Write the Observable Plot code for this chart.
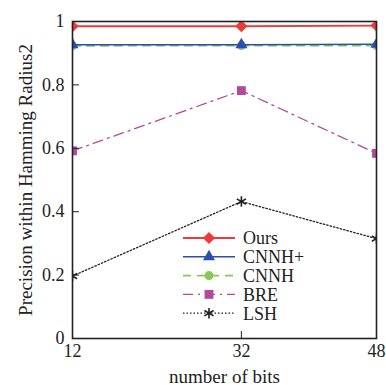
<!DOCTYPE html>
<html><head><meta charset="utf-8">
<script src="https://cdn.jsdelivr.net/npm/d3@7"></script>
<script src="https://cdn.jsdelivr.net/npm/@observablehq/plot@0.6"></script>
<style>
body{margin:0;background:#fff}
#chart svg, #chart svg text{font-family:"Liberation Serif","Times New Roman",serif !important}
</style></head>
<body><div id="chart"></div>
<script>
const bits = [12, 32, 48];
const seriesNames = ["Ours", "CNNH+", "CNNH", "BRE", "LSH"];
const ours = [0.985, 0.985, 0.987];
const cnnhPlus = [0.927, 0.927, 0.928];
const cnnh = [0.923, 0.924, 0.924];
const bre = [0.592, 0.782, 0.584];
const lsh = [0.197, 0.432, 0.315];
const yTicks = [0, 0.2, 0.4, 0.6, 0.8, 1];
const xTicks = [12, 32, 48];

const values = [ours, cnnhPlus, cnnh, bre, lsh];
const styles = {
  "Ours":  {color: "#ee3a3a", dash: null, symbol: "diamond2", r: 5.5, sw: 1.8},
  "CNNH+": {color: "#2a4fae", dash: null, symbol: "triangle", r: 4.5, sw: 1.5},
  "CNNH":  {color: "#8cc657", dash: "8,6", symbol: "circle", r: 4.5, sw: 1.6},
  "BRE":   {color: "#b3499e", dash: "10,5,2,5", symbol: "square", r: 5, sw: 1.3},
  "LSH":   {color: "#222222", dash: "1.5,2", symbol: "asterisk", r: 5, sw: 1.3}
};
const rows = [];
seriesNames.forEach((s, i) => bits.forEach((b, j) => rows.push({series: s, bits: b, value: values[i][j]})));

const marks = [];
seriesNames.slice().reverse().forEach(s => {
  const st = styles[s];
  const d = rows.filter(r => r.series === s);
  marks.push(Plot.line(d, {x: "bits", y: "value", stroke: st.color, strokeWidth: st.sw, strokeDasharray: st.dash}));
  if (st.symbol === "asterisk") {
    marks.push(Plot.dot(d, {x: "bits", y: "value", symbol: st.symbol, stroke: st.color, strokeWidth: 1.6, r: st.r, clip: true}));
  } else {
    marks.push(Plot.dot(d, {x: "bits", y: "value", symbol: st.symbol, fill: st.color, stroke: "none", r: st.r, clip: true}));
  }
});

const FF = "'Liberation Serif', 'Times New Roman', serif";
const chart = Plot.plot({
  width: 386,
  height: 385,
  marginLeft: 72,
  marginRight: 10,
  marginTop: 21,
  marginBottom: 47,
  style: {fontFamily: FF, fontSize: "18px", color: "#222"},
  x: {domain: [12, 48], nice: false},
  y: {domain: [0, 1], nice: false},
  marks: [
    ...marks,
    Plot.axisY(yTicks, {tickSize: -7, tickPadding: 15, stroke: "#222", fontSize: 18, fontFamily: FF, fontVariant: "normal", tickFormat: d => String(d), label: null}),
    Plot.axisY({ticks: [], label: "Precision within Hamming Radius2", labelAnchor: "center", labelOffset: 54, labelArrow: "none", fontSize: 19, fontFamily: FF}),
    Plot.axisX(xTicks, {tickSize: -7, tickPadding: 13, stroke: "#222", fontSize: 18, fontFamily: FF, fontVariant: "normal", tickFormat: d => String(d), label: null}),
    Plot.axisX({ticks: [], label: "number of bits", labelAnchor: "center", labelOffset: 44, labelArrow: "none", fontSize: 19, fontFamily: FF}),
    Plot.frame({stroke: "#222", strokeWidth: 1.6})
  ]
});
document.getElementById("chart").appendChild(chart);

// legend
const svg = d3.select(chart);
const symMap = {diamond2: d3.symbolDiamond2, triangle: d3.symbolTriangle, circle: d3.symbolCircle, square: d3.symbolSquare, asterisk: d3.symbolAsterisk};
const lg = svg.append("g").attr("transform", "translate(183,238)");
seriesNames.forEach((s, i) => {
  const st = styles[s];
  const g = lg.append("g").attr("transform", `translate(0,${i * 18.8})`);
  g.append("line").attr("x1", 0).attr("x2", 52).attr("y1", 0).attr("y2", 0)
    .attr("stroke", st.color).attr("stroke-width", st.sw).attr("stroke-dasharray", st.dash);
  const p = g.append("path").attr("transform", "translate(26,0)")
    .attr("d", d3.symbol(symMap[st.symbol], Math.PI * st.r * st.r)());
  if (st.symbol === "asterisk") p.attr("fill", "none").attr("stroke", st.color).attr("stroke-width", 1.6);
  else p.attr("fill", st.color);
  g.append("text").attr("x", 60).attr("y", 0).attr("dy", "0.35em")
    .attr("text-anchor", "start").attr("font-size", 18).attr("fill", "#222").text(s);
});
</script>
</body></html>
